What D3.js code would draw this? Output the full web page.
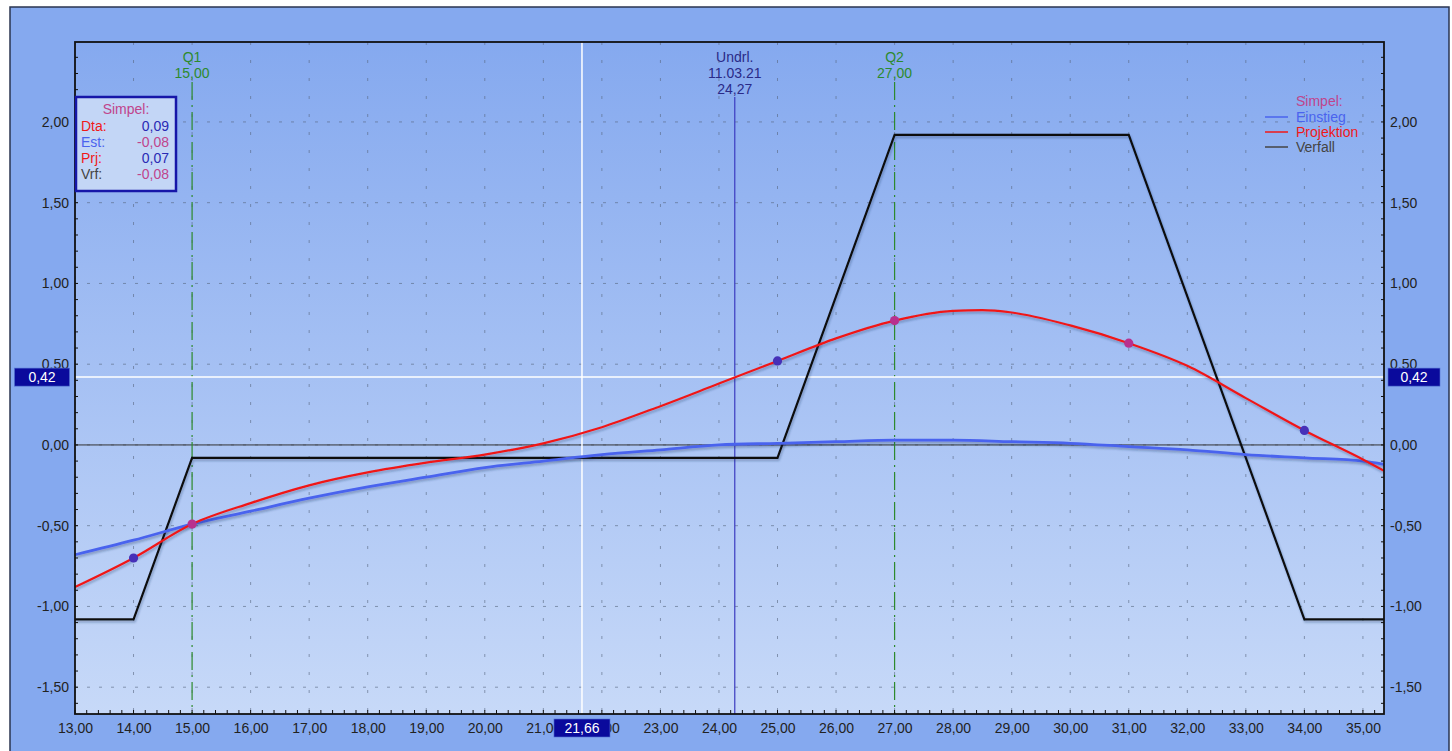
<!DOCTYPE html>
<html><head><meta charset="utf-8">
<script src="https://cdn.jsdelivr.net/npm/d3@7"></script>
<style>body{margin:0;background:#fff;}svg{display:block;font-family:"Liberation Sans",Arial,sans-serif;}</style>
</head><body>
<svg id="c" width="1452" height="751"></svg>
<script>
const xTicks = [13,14,15,16,17,18,19,20,21,22,23,24,25,26,27,28,29,30,31,32,33,34,35];
const yTicks = [-1.5,-1.0,-0.5,0,0.5,1.0,1.5,2.0];

const verfallX = [13, 14, 15, 25, 27, 31, 34, 35.36];
const verfallY = [-1.08, -1.08, -0.08, -0.08, 1.92, 1.92, -1.08, -1.08];

const projX = [13, 14, 15, 16, 17, 18, 19, 20, 21, 22, 23, 24, 25, 26, 27, 28, 28.5, 29, 30, 31, 32, 33, 34, 35, 35.36];
const projY = [-0.88, -0.70, -0.49, -0.36, -0.25, -0.17, -0.11, -0.06, 0.01, 0.11, 0.24, 0.38, 0.52, 0.66, 0.77, 0.83, 0.835, 0.82, 0.74, 0.63, 0.49, 0.29, 0.09, -0.09, -0.16];

const einX = [13, 14, 15, 16, 17, 18, 19, 20, 21, 22, 23, 24, 25, 26, 27, 28, 29, 30, 31, 32, 33, 34, 35, 35.36];
const einY = [-0.68, -0.59, -0.49, -0.41, -0.33, -0.26, -0.20, -0.14, -0.10, -0.06, -0.03, 0.00, 0.01, 0.02, 0.03, 0.03, 0.02, 0.01, -0.01, -0.03, -0.06, -0.08, -0.10, -0.12];

const markerX = [14, 15, 25, 27, 31, 34];
const markerY = [-0.70, -0.49, 0.52, 0.77, 0.63, 0.09];
const markerKind = ["b", "m", "b", "m", "m", "b"];

const qLines = [{name:"Q1", x:15, label:"15,00"}, {name:"Q2", x:27, label:"27,00"}];
const undrl = {x:24.27, date:"11.03.21", label:"24,27"};
const cross = {x:21.66, y:0.42, xl:"21,66", yl:"0,42"};

const infoRows = [["Dta:", "0,09"], ["Est:", "-0,08"], ["Prj:", "0,07"], ["Vrf:", "-0,08"]];
const legendItems = ["Einstieg", "Projektion", "Verfall"];

const fmt = v => v.toFixed(2).replace(".", ",");
const FS = 14;

const svg = d3.select("#c");
const L = 75, T = 42, R = 1384, B = 714;
const x = d3.scaleLinear().domain([13, 35.36]).range([L, R]);
const y = d3.scaleLinear().domain([-1.666, 2.495]).range([B, T]);

const defs = svg.append("defs");
const g1 = defs.append("linearGradient").attr("id","bg").attr("x1",0).attr("y1",0).attr("x2",0).attr("y2",1);
g1.append("stop").attr("offset","0%").attr("stop-color","#85a9ef");
g1.append("stop").attr("offset","100%").attr("stop-color","#c7d9f8");
const sh = defs.append("filter").attr("id","sh").attr("x","-5%").attr("y","-5%").attr("width","110%").attr("height","120%");
sh.append("feDropShadow").attr("dx",1).attr("dy",2).attr("stdDeviation",1.2).attr("flood-color","#203060").attr("flood-opacity",0.35);
defs.append("clipPath").attr("id","clip").append("rect").attr("x",L).attr("y",T).attr("width",R-L).attr("height",B-T);

// outer background
svg.append("rect").attr("x",10).attr("y",7).attr("width",1439).attr("height",750).attr("fill","#85a9ef").attr("stroke","#2a3550").attr("stroke-width",1.5);
// plot bg
svg.append("rect").attr("x",L).attr("y",T).attr("width",R-L).attr("height",B-T).attr("fill","url(#bg)");

const grid = svg.append("g").attr("clip-path","url(#clip)");
grid.selectAll("line.hg").data(yTicks).join("line")
  .attr("x1",L).attr("x2",R).attr("y1",d=>y(d)).attr("y2",d=>y(d))
  .attr("stroke","#56657e").attr("stroke-width",1).attr("stroke-dasharray","3,9").attr("opacity",0.6);
grid.selectAll("line.vg").data(xTicks).join("line")
  .attr("x1",d=>x(d)).attr("x2",d=>x(d)).attr("y1",T).attr("y2",B)
  .attr("stroke","#56657e").attr("stroke-width",1).attr("stroke-dasharray","3,15").attr("opacity",0.6);

grid.append("line").attr("x1",L).attr("x2",R).attr("y1",y(0)).attr("y2",y(0)).attr("stroke","#333").attr("stroke-width",1);

grid.selectAll("line.q").data(qLines).join("line")
  .attr("x1",d=>x(d.x)).attr("x2",d=>x(d.x)).attr("y1",82).attr("y2",B)
  .attr("stroke","#2d8a2d").attr("stroke-width",1.2).attr("stroke-dasharray","18,5,2,5");
grid.append("line").attr("x1",x(undrl.x)).attr("x2",x(undrl.x)).attr("y1",97).attr("y2",B)
  .attr("stroke","#3b3bc0").attr("stroke-width",1.2);
grid.append("line").attr("x1",x(cross.x)).attr("x2",x(cross.x)).attr("y1",T).attr("y2",B).attr("stroke","#fff").attr("stroke-width",1.5);
grid.append("line").attr("x1",L).attr("x2",R).attr("y1",y(cross.y)).attr("y2",y(cross.y)).attr("stroke","#fff").attr("stroke-width",1.5);

const mk = (xs, ys) => xs.map((v,i)=>[v, ys[i]]);
const curveLine = d3.line().x(d=>x(d[0])).y(d=>y(d[1])).curve(d3.curveMonotoneX);
const straight = d3.line().x(d=>x(d[0])).y(d=>y(d[1]));
const curves = svg.append("g").attr("clip-path","url(#clip)");
curves.append("path").datum(mk(verfallX, verfallY)).attr("d",straight).attr("fill","none").attr("stroke","#111").attr("stroke-width",2.2).attr("filter","url(#sh)");
curves.append("path").datum(mk(einX, einY)).attr("d",curveLine).attr("fill","none").attr("stroke","#4a63ee").attr("stroke-width",2.8).attr("filter","url(#sh)");
curves.append("path").datum(mk(projX, projY)).attr("d",curveLine).attr("fill","none").attr("stroke","#f01818").attr("stroke-width",2.2).attr("filter","url(#sh)");
curves.selectAll("circle").data(markerX.map((v,i)=>({x:v,y:markerY[i],k:markerKind[i]}))).join("circle")
  .attr("cx",d=>x(d.x)).attr("cy",d=>y(d.y)).attr("r",4.6)
  .attr("fill",d=>d.k==="b"?"#4630b8":"#b8308e");

svg.append("rect").attr("x",L).attr("y",T).attr("width",R-L).attr("height",B-T).attr("fill","none").attr("stroke","#111").attr("stroke-width",1.8);

const minorX = d3.range(13, 35.4, 0.2);
svg.append("g").selectAll("line").data(minorX).join("line")
  .attr("x1",d=>x(d)).attr("x2",d=>x(d)).attr("y1",B).attr("y2",B-4).attr("stroke","#111");
const minorY = d3.range(-1.6, 2.5, 0.1);
svg.append("g").selectAll("line").data(minorY).join("line")
  .attr("x1",L).attr("x2",L+3).attr("y1",d=>y(d)).attr("y2",d=>y(d)).attr("stroke","#111");
svg.append("g").selectAll("line").data(minorY).join("line")
  .attr("x1",R).attr("x2",R-3).attr("y1",d=>y(d)).attr("y2",d=>y(d)).attr("stroke","#111");

const styleAxis = g=>{g.select(".domain").remove(); g.selectAll("text").attr("font-size",FS).attr("fill","#222").attr("font-family","Liberation Sans, Arial");};
svg.append("g").attr("transform",`translate(0,${B})`).call(d3.axisBottom(x).tickValues(xTicks).tickFormat(fmt).tickSize(0).tickPadding(9)).call(styleAxis);
svg.append("g").attr("transform",`translate(${L},0)`).call(d3.axisLeft(y).tickValues(yTicks).tickFormat(fmt).tickSize(0).tickPadding(6)).call(styleAxis);
svg.append("g").attr("transform",`translate(${R},0)`).call(d3.axisRight(y).tickValues(yTicks).tickFormat(fmt).tickSize(0).tickPadding(6)).call(styleAxis);

function box(cx, cy, w, txt){
  svg.append("rect").attr("x",cx-w/2).attr("y",cy-9).attr("width",w).attr("height",18).attr("fill","#0a0a9c").attr("stroke","#5070d0").attr("stroke-width",0.6);
  svg.append("text").attr("x",cx).attr("y",cy+5).attr("text-anchor","middle").attr("font-size",FS).attr("fill","#fff").text(txt);
}
box(42, y(cross.y), 55, cross.yl);
box(1414, y(cross.y), 52, cross.yl);
box(x(cross.x), 728, 56, cross.xl);

qLines.forEach(q=>{
  svg.append("text").attr("x",x(q.x)).attr("y",62).attr("text-anchor","middle").attr("font-size",FS).attr("fill","#2d8a2d").text(q.name);
  svg.append("text").attr("x",x(q.x)).attr("y",78).attr("text-anchor","middle").attr("font-size",FS).attr("fill","#2d8a2d").text(q.label);
});
[["Undrl.",62],[undrl.date,78],[undrl.label,94]].forEach(([t,yy])=>{
  svg.append("text").attr("x",x(undrl.x)).attr("y",yy).attr("text-anchor","middle").attr("font-size",FS).attr("fill","#2a2a88").text(t);
});

svg.append("rect").attr("x",76).attr("y",97).attr("width",100).attr("height",94).attr("fill","#c3d6f6").attr("stroke","#1616a8").attr("stroke-width",2.5);
svg.append("text").attr("x",126).attr("y",114).attr("text-anchor","middle").attr("font-size",FS).attr("fill","#c0448c").text("Simpel:");
const labCol = ["#f01818","#4a63ee","#f01818","#444"];
const valCol = ["#2a2ab4","#c0448c","#2a2ab4","#c0448c"];
infoRows.forEach((r,i)=>{
  svg.append("text").attr("x",81).attr("y",131+i*16).attr("font-size",FS).attr("fill",labCol[i]).text(r[0]);
  svg.append("text").attr("x",169).attr("y",131+i*16).attr("text-anchor","end").attr("font-size",FS).attr("fill",valCol[i]).text(r[1]);
});

svg.append("text").attr("x",1296).attr("y",106).attr("font-size",FS).attr("fill","#c0448c").text("Simpel:");
const legCol = ["#4a63ee","#f01818","#444"];
legendItems.forEach((t,i)=>{
  const yy = 117 + i*15;
  svg.append("line").attr("x1",1265).attr("x2",1288).attr("y1",yy).attr("y2",yy).attr("stroke",legCol[i]).attr("stroke-width",1.5);
  svg.append("text").attr("x",1296).attr("y",yy+5).attr("font-size",FS).attr("fill",legCol[i]).text(t);
});
</script>
</body></html>
